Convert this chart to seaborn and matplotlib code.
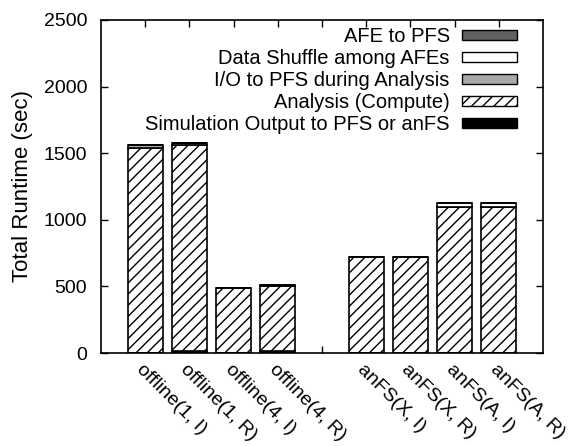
import numpy as np
import pandas as pd
import seaborn as sns
import matplotlib
matplotlib.use("Agg")
import matplotlib.pyplot as plt
from matplotlib.patches import Patch

# ---- data ----
categories = ["offline(1, I)", "offline(1, R)", "offline(4, I)", "offline(4, R)",
              "anFS(X, I)", "anFS(X, R)", "anFS(A, I)", "anFS(A, R)"]
sim_output = [0, 15, 0, 15, 3, 3, 3, 3]
analysis = [1540, 1545, 486, 490, 720, 720, 1092, 1092]
io_pfs = [22, 20, 4, 3, 0, 0, 0, 0]
shuffle = [0, 0, 0, 0, 0, 0, 28, 28]
afe_pfs = [0, 0, 0, 0, 0, 0, 0, 0]

series_names = ["Simulation Output to PFS or anFS", "Analysis (Compute)",
                "I/O to PFS during Analysis", "Data Shuffle among AFEs", "AFE to PFS"]

sns.set_style("ticks")
plt.rcParams['font.family'] = ['Liberation Sans', 'DejaVu Sans']
plt.rcParams['hatch.linewidth'] = 1.0
for k in ["text.color", "axes.labelcolor", "xtick.color", "ytick.color", "axes.edgecolor"]:
    plt.rcParams[k] = "black"

fig = plt.figure(figsize=(5.74, 4.46), dpi=100)
ax = fig.add_axes([101/574, 1-353/446, (543-101)/574, (353-20)/446])

# group gap: offline bars at 1..4, anFS bars at 6..9
pos = [1, 2, 3, 4, 6, 7, 8, 9]

layers = [
    (sim_output, dict(color="black", hatch=None)),
    (analysis, dict(color="white", hatch="///")),
    (io_pfs, dict(color="#a9a9a9", hatch=None)),
    (shuffle, dict(color="white", hatch=None)),
    (afe_pfs, dict(color="#606060", hatch=None)),
]

bottom = np.zeros(len(pos))
for vals, style in layers:
    vals = np.asarray(vals, dtype=float)
    sns.barplot(x=pos, y=vals, bottom=bottom, native_scale=True, width=0.8,
                color=style["color"], hatch=style["hatch"], edgecolor="black",
                linewidth=1.2, saturation=1, errorbar=None, ax=ax)
    bottom = bottom + vals

ax.set_xlim(0, 10)
ax.set_ylim(0, 2500)
ax.set_yticks([0, 500, 1000, 1500, 2000, 2500])
ax.set_xticks(range(1, 10))
labels = categories[:4] + [""] + categories[4:]
ax.set_xticklabels(labels, rotation=-45, ha="left", va="top", rotation_mode="anchor",
                   fontsize=14)
ax.tick_params(axis="both", direction="in", top=True, right=True, length=5,
               width=1.0, labelsize=14, colors="black")
ax.tick_params(axis="x", pad=6)
ax.tick_params(axis="y", pad=10)
for s in ax.spines.values():
    s.set_linewidth(1.2)
    s.set_visible(True)
    s.set_color("black")
ax.set_xlabel("")
ax.set_ylabel("Total Runtime (sec)", fontsize=16, color="black")
ax.yaxis.set_label_coords(-0.154, 0.5)

handles = [
    Patch(facecolor="#606060", edgecolor="black", linewidth=1.0),
    Patch(facecolor="white", edgecolor="black", linewidth=1.0),
    Patch(facecolor="#a9a9a9", edgecolor="black", linewidth=1.0),
    Patch(facecolor="white", edgecolor="black", hatch="///", linewidth=1.0),
    Patch(facecolor="black", edgecolor="black", linewidth=1.0),
]
leg_labels = [series_names[4], series_names[3], series_names[2], series_names[1], series_names[0]]
ax.legend(handles, leg_labels, loc="upper right", bbox_to_anchor=(0.969, 1.015),
          frameon=False, markerfirst=False, fontsize=14.5, handlelength=2.75,
          handleheight=0.4, labelspacing=0.15, handletextpad=0.6,
          borderaxespad=0.2)

fig.savefig("out.png", dpi=100)
